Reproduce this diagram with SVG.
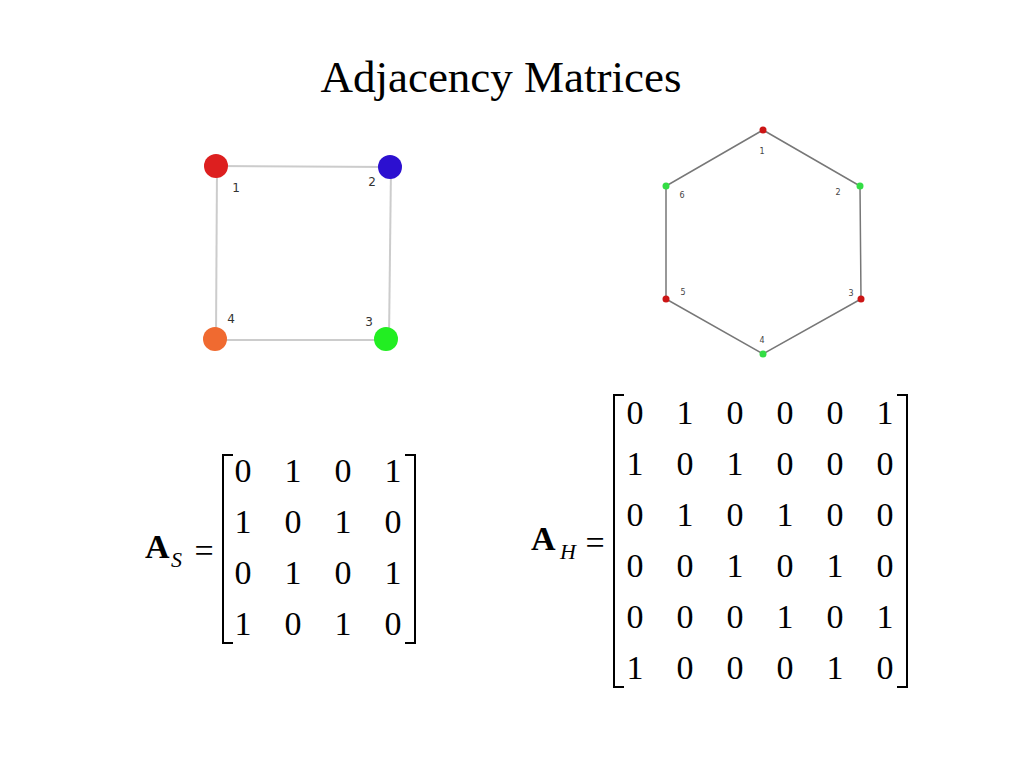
<svg xmlns="http://www.w3.org/2000/svg" width="1024" height="768" viewBox="0 0 1024 768">
<style>
.title{font-family:"Liberation Serif","Times New Roman",serif;font-size:45px;fill:#000}
.m{font-family:"Liberation Serif","Times New Roman",serif;font-size:34px;fill:#000;text-anchor:middle}
.bold{font-family:"Liberation Serif","Times New Roman",serif;font-size:34px;font-weight:bold;fill:#000}
.sub{font-family:"Liberation Serif","Times New Roman",serif;font-size:22px;font-style:italic;fill:#000}
.br{fill:none;stroke:#000;stroke-width:2}
.sqe{stroke:#cccccc;stroke-width:2;fill:none}
.hxe{stroke:#777777;stroke-width:1.5;fill:none}
.sql{font-family:"DejaVu Sans",sans-serif;font-size:12px;fill:#333;text-anchor:middle}
.hxl{font-family:"DejaVu Sans",sans-serif;font-size:8px;fill:#444;text-anchor:middle}
</style>
<rect width="1024" height="768" fill="#fff"/>
<text class="title" x="501" y="92" text-anchor="middle">Adjacency Matrices</text>

<g id="connectors">
  <line class="sqe" x1="216" y1="166" x2="390" y2="167"/>
  <line class="sqe" x1="391" y1="167" x2="389" y2="339"/>
  <line class="sqe" x1="386" y1="340" x2="215" y2="340"/>
  <line class="sqe" x1="216" y1="339" x2="217" y2="166"/>
  <polyline class="hxe" points="763,130 860,186 861,299 763,354 666,299 666,186 763,130"/>
</g>

<g id="sq1"><circle cx="216" cy="166" r="12" fill="#dd1f1f"/><text class="sql" x="236" y="192">1</text></g>
<g id="sq2"><circle cx="390" cy="167" r="12" fill="#2c10d0"/><text class="sql" x="372" y="186">2</text></g>
<g id="sq3"><circle cx="386" cy="339" r="12" fill="#22ee22"/><text class="sql" x="369" y="326">3</text></g>
<g id="sq4"><circle cx="215" cy="339" r="12" fill="#f06a30"/><text class="sql" x="231" y="323">4</text></g>

<g id="hx1"><circle cx="763" cy="130" r="3.5" fill="#cc1515"/><text class="hxl" x="762" y="154">1</text></g>
<g id="hx2"><circle cx="860" cy="186" r="3.5" fill="#33dd44"/><text class="hxl" x="838" y="195">2</text></g>
<g id="hx3"><circle cx="861" cy="299" r="3.5" fill="#cc1515"/><text class="hxl" x="851" y="296">3</text></g>
<g id="hx4"><circle cx="763" cy="354" r="3.5" fill="#33dd44"/><text class="hxl" x="762" y="343">4</text></g>
<g id="hx5"><circle cx="666" cy="299" r="3.5" fill="#cc1515"/><text class="hxl" x="683" y="295">5</text></g>
<g id="hx6"><circle cx="666" cy="186" r="3.5" fill="#33dd44"/><text class="hxl" x="682" y="198">6</text></g>

<g id="matrixS">
  <text class="bold" x="145" y="558">A</text>
  <text class="sub" x="171" y="567">S</text>
  <text class="m" x="204" y="562">=</text>
  <path class="br" d="M233,455 H223 V643 H233"/>
  <path class="br" d="M405,455 H415 V643 H405"/>
  <text class="m" y="482"><tspan x="243">0</tspan><tspan x="293">1</tspan><tspan x="343">0</tspan><tspan x="393">1</tspan></text>
  <text class="m" y="533"><tspan x="243">1</tspan><tspan x="293">0</tspan><tspan x="343">1</tspan><tspan x="393">0</tspan></text>
  <text class="m" y="584"><tspan x="243">0</tspan><tspan x="293">1</tspan><tspan x="343">0</tspan><tspan x="393">1</tspan></text>
  <text class="m" y="635"><tspan x="243">1</tspan><tspan x="293">0</tspan><tspan x="343">1</tspan><tspan x="393">0</tspan></text>
</g>

<g id="matrixH">
  <text class="bold" x="531" y="550">A</text>
  <text class="sub" x="560" y="559">H</text>
  <text class="m" x="595" y="554">=</text>
  <path class="br" d="M624,395 H614 V687 H624"/>
  <path class="br" d="M897,395 H907 V687 H897"/>
  <text class="m" y="424"><tspan x="635">0</tspan><tspan x="685">1</tspan><tspan x="735">0</tspan><tspan x="785">0</tspan><tspan x="835">0</tspan><tspan x="885">1</tspan></text>
  <text class="m" y="475"><tspan x="635">1</tspan><tspan x="685">0</tspan><tspan x="735">1</tspan><tspan x="785">0</tspan><tspan x="835">0</tspan><tspan x="885">0</tspan></text>
  <text class="m" y="526"><tspan x="635">0</tspan><tspan x="685">1</tspan><tspan x="735">0</tspan><tspan x="785">1</tspan><tspan x="835">0</tspan><tspan x="885">0</tspan></text>
  <text class="m" y="577"><tspan x="635">0</tspan><tspan x="685">0</tspan><tspan x="735">1</tspan><tspan x="785">0</tspan><tspan x="835">1</tspan><tspan x="885">0</tspan></text>
  <text class="m" y="628"><tspan x="635">0</tspan><tspan x="685">0</tspan><tspan x="735">0</tspan><tspan x="785">1</tspan><tspan x="835">0</tspan><tspan x="885">1</tspan></text>
  <text class="m" y="679"><tspan x="635">1</tspan><tspan x="685">0</tspan><tspan x="735">0</tspan><tspan x="785">0</tspan><tspan x="835">1</tspan><tspan x="885">0</tspan></text>
</g>
</svg>
